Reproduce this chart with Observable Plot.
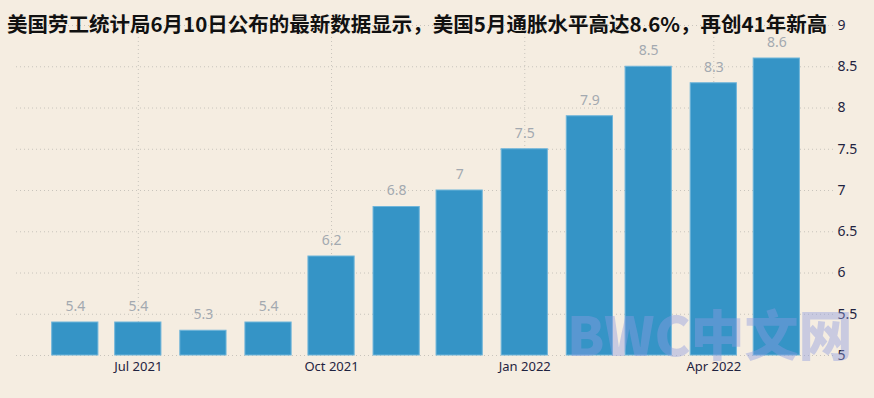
<!DOCTYPE html>
<html><head><meta charset="utf-8">
<script src="https://cdn.jsdelivr.net/npm/d3@7"></script>
<script src="https://cdn.jsdelivr.net/npm/@observablehq/plot@0.6"></script>
<style>
html,body{margin:0;padding:0;background:#f5ede1;}
#wrap{position:relative;width:874px;height:398px;background:#f5ede1;overflow:hidden;}
#title{position:absolute;left:7px;top:13px;font-family:"Noto Sans CJK SC";font-weight:bold;font-size:20.5px;line-height:1;color:#111;white-space:nowrap;z-index:2;}
#wm{position:absolute;left:567px;top:306px;font-family:"Noto Sans CJK SC";font-weight:900;font-size:54px;line-height:1;color:rgba(140,155,225,0.42);white-space:nowrap;z-index:3;}
#chart{position:absolute;left:0;top:0;}
</style></head>
<body>
<div id="wrap">
  <div id="chart"></div>
  <div id="title">美国劳工统计局6月10日公布的最新数据显示，美国5月通胀水平高达8.6%，再创41年新高</div>
  <div id="wm">BWC中文网</div>
</div>
<script>
const months = ["2021-06-01","2021-07-01","2021-08-01","2021-09-01","2021-10-01","2021-11-01","2021-12-01","2022-01-01","2022-02-01","2022-03-01","2022-04-01","2022-05-01"];
const values = [5.4, 5.4, 5.3, 5.4, 6.2, 6.8, 7.0, 7.5, 7.9, 8.5, 8.3, 8.6];
const valueLabels = ["5.4","5.4","5.3","5.4","6.2","6.8","7","7.5","7.9","8.5","8.3","8.6"];
const xTicks = ["2021-07-01","2021-10-01","2022-01-01","2022-04-01"];
const yTicks = [5, 5.5, 6, 6.5, 7, 7.5, 8, 8.5, 9];

const data = months.map((m, i) => ({date: new Date(m + "T00:00:00Z"), value: values[i], label: valueLabels[i]}));
const xTickDates = xTicks.map(t => new Date(t + "T00:00:00Z"));

const chart = Plot.plot({
  width: 874,
  height: 398,
  marginLeft: 16,
  marginRight: 41,
  marginTop: 25,
  marginBottom: 43,
  style: {background: "transparent", fontFamily: "'Noto Sans', sans-serif"},
  x: {type: "utc", domain: [new Date("2021-05-04T00:00:00Z"), new Date("2022-05-28T00:00:00Z")]},
  y: {domain: [5, 9]},
  marks: [
    Plot.gridY(yTicks, {stroke: "#c8c4bc", strokeOpacity: 1, strokeDasharray: "1,3"}),
    Plot.gridX(xTickDates, {stroke: "#c8c4bc", strokeOpacity: 1, strokeDasharray: "1,3"}),
    Plot.rect(data, {
      x1: d => d3.utcDay.offset(d.date, -11),
      x2: d => d3.utcDay.offset(d.date, 11),
      y1: 5,
      y2: "value",
      fill: "#3594c6",
      stroke: "#6fb5da",
      strokeWidth: 1
    }),
    Plot.text(data, {x: "date", y: "value", text: "label", dy: -16, fill: "#a3a9b0", fontSize: 14}),
    Plot.axisY({anchor: "right", ticks: yTicks, tickSize: 0, tickPadding: 4, tickFormat: d => String(d), fontSize: 14, fill: "#1f2340", label: null}),
    Plot.axisX({ticks: xTickDates, tickSize: 0, tickPadding: 6, tickFormat: d3.utcFormat("%b %Y"), fontSize: 13, fill: "#1f2340", label: null})
  ]
});
document.getElementById("chart").appendChild(chart);
</script>
</body></html>
